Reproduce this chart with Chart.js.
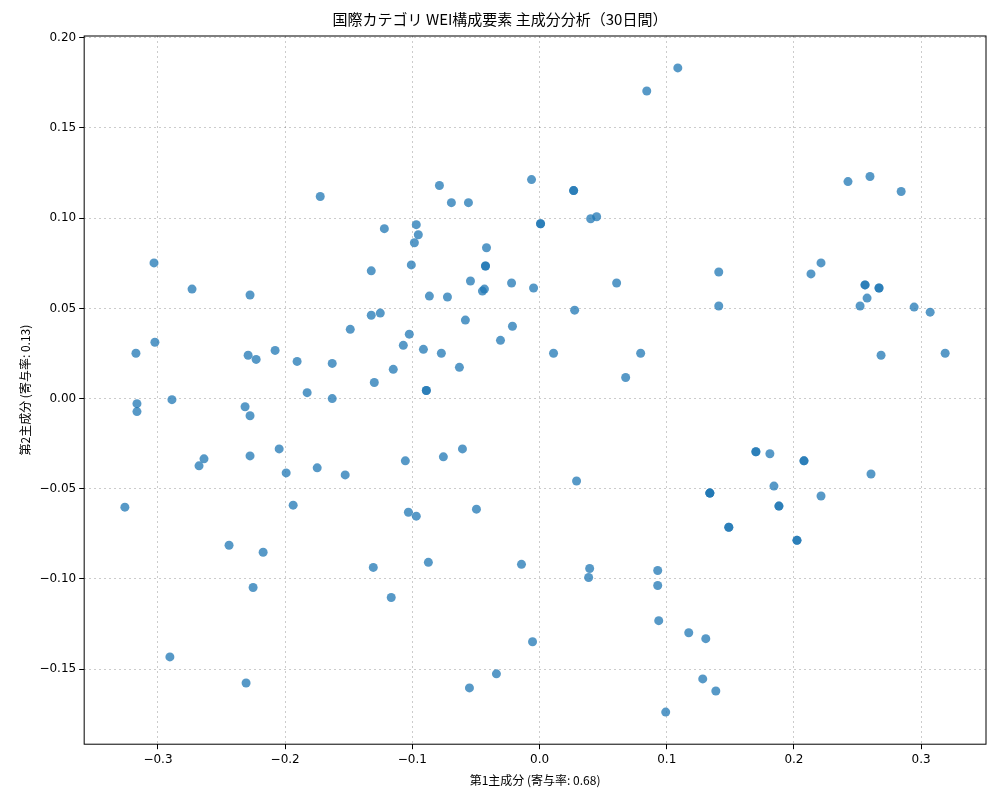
<!DOCTYPE html>
<html>
<head>
<meta charset="utf-8">
<style>
  html, body { margin: 0; padding: 0; background: #fff; }
  #wrap { width: 1000px; height: 800px; }
</style>
<script src="https://cdn.jsdelivr.net/npm/chart.js@4/dist/chart.umd.min.js"></script>
</head>
<body>
<div id="wrap"><canvas id="chartPca"></canvas></div>
<script>
// principal component scores
const pc1 = [
    0.1087, 0.0843, -0.0063, 0.0268, 0.0268, -0.0787, -0.0693, -0.0559, -0.1724, 0.0008,
    0.0402, 0.0449, -0.0969, -0.1220, -0.0953, -0.0984, -0.0417, -0.0425, -0.3031, -0.1323,
    -0.1008, -0.0543, -0.2732, -0.2276, -0.0866, -0.0724, -0.0433, -0.0449, -0.0220, -0.0047,
    0.0606, 0.1409, 0.1409, 0.0276, -0.1323, -0.1252, -0.1488, -0.0213, -0.1024, -0.0583,
    -0.0307, -0.1071, -0.0913, -0.0772, -0.2079, -0.2291, -0.2228, -0.3173, -0.3024, -0.1906,
    -0.1630, -0.1150, -0.0630, 0.0110, 0.0795, 0.0677, -0.1299, -0.1827, -0.0890, -0.1630,
    -0.2890, -0.3165, -0.3165, -0.2315, -0.2276, -0.2047, -0.0606, -0.0756, -0.2276, -0.2638,
    -0.2677, -0.1992, -0.1748, -0.1528, -0.1055, -0.1937, -0.3260, 0.0291, -0.1031, -0.0969,
    -0.0496, 0.1701, 0.1811, 0.2079, 0.2606, 0.1843, 0.1339, 0.2213, 0.1882, 0.1488,
    0.2024, -0.2441, -0.2173, -0.0874, -0.0142, -0.1307, 0.0394, 0.0386, 0.0929, 0.0929,
    -0.2252, -0.1166, 0.0937, 0.1173, 0.1307, -0.0055, -0.2906, -0.0339, -0.2307, -0.0551,
    0.1283, 0.1386, 0.0992, 0.2425, 0.2598, 0.2843, 0.2213, 0.2134, 0.2559, 0.2669,
    0.2575, 0.2520, 0.2945, 0.3071, 0.2685, 0.3189,
    // overlapping repeats (darker dots)
    -0.0425, -0.0890, 0.0008, 0.1339, 0.1339, 0.1488, 0.1701, 0.1882, 0.2079, 0.2024, 0.2559, 0.2669
];
const pc2 = [
    0.1833, 0.1705, 0.1214, 0.1153, 0.1153, 0.1181, 0.1086, 0.1086, 0.1120, 0.0969,
    0.0997, 0.1008, 0.0964, 0.0942, 0.0908, 0.0864, 0.0836, 0.0735, 0.0752, 0.0708,
    0.0741, 0.0652, 0.0607, 0.0574, 0.0568, 0.0563, 0.0607, 0.0596, 0.0641, 0.0613,
    0.0641, 0.0702, 0.0513, 0.0490, 0.0462, 0.0474, 0.0384, 0.0401, 0.0357, 0.0435,
    0.0323, 0.0295, 0.0273, 0.0251, 0.0267, 0.0240, 0.0217, 0.0251, 0.0312, 0.0206,
    0.0195, 0.0162, 0.0173, 0.0251, 0.0251, 0.0117, 0.0089, 0.0033, 0.0045, 0.0000,
    -0.0006, -0.0028, -0.0072, -0.0045, -0.0095, -0.0279, -0.0279, -0.0323, -0.0318, -0.0334,
    -0.0373, -0.0412, -0.0384, -0.0423, -0.0345, -0.0591, -0.0602, -0.0457, -0.0630, -0.0652,
    -0.0613, -0.0295, -0.0306, -0.0345, -0.0418, -0.0485, -0.0524, -0.0540, -0.0596, -0.0713,
    -0.0786, -0.0813, -0.0852, -0.0908, -0.0919, -0.0936, -0.0942, -0.0992, -0.0953, -0.1036,
    -0.1047, -0.1103, -0.1231, -0.1298, -0.1331, -0.1348, -0.1432, -0.1526, -0.1577, -0.1604,
    -0.1554, -0.1621, -0.1738, 0.1203, 0.1231, 0.1148, 0.0752, 0.0691, 0.0630, 0.0613,
    0.0557, 0.0513, 0.0507, 0.0479, 0.0240, 0.0251,
    0.0735, 0.0045, 0.0969, -0.0524, -0.0524, -0.0713, -0.0295, -0.0596, -0.0345, -0.0786, 0.0630, 0.0613
];
const xTicks = [-0.3, -0.2, -0.1, 0, 0.1, 0.2, 0.3];
const yTicks = [-0.15, -0.10, -0.05, 0, 0.05, 0.10, 0.15, 0.20];

const FONT = "'DejaVu Sans', sans-serif";
const JP = "'Noto Sans CJK JP', sans-serif";
const fmt = (v, d) => (v < 0 ? '\u2212' : '') + Math.abs(v).toFixed(d);

const points = pc1.map((x, i) => ({ x, y: pc2[i] }));

new Chart(document.getElementById('chartPca'), {
    type: 'scatter',
    data: {
        datasets: [{
            data: points,
            backgroundColor: 'rgba(31,119,180,0.75)',
            borderWidth: 0,
            pointRadius: 4.5,
        }],
    },
    options: {
        responsive: true,
        maintainAspectRatio: false,
        animation: false,
        layout: { padding: { left: 14, right: 14, top: 6, bottom: 8 } },
        plugins: {
            legend: { display: false },
            tooltip: { enabled: false },
            title: {
                display: true,
                text: '国際カテゴリ WEI構成要素 主成分分析（30日間）',
                color: '#000',
                font: { family: JP, size: 15, weight: 'normal' },
                padding: { top: 4, bottom: 8 },
            },
        },
        scales: {
            x: {
                type: 'linear',
                min: -0.358, max: 0.351,
                afterBuildTicks: ax => { ax.ticks = xTicks.map(v => ({ value: v })); },
                ticks: { color: '#000', font: { family: FONT, size: 12 }, callback: v => fmt(v, 1) },
                grid: { color: 'rgba(0,0,0,0.2)', tickColor: '#000', tickLength: 5 },
                border: { display: false, dash: [2, 3] },
                title: {
                    display: true, text: '第1主成分 (寄与率: 0.68)', color: '#000',
                    font: { family: JP, size: 12 },
                },
            },
            y: {
                type: 'linear',
                min: -0.1916, max: 0.201,
                afterBuildTicks: ax => { ax.ticks = yTicks.map(v => ({ value: v })); },
                ticks: { color: '#000', font: { family: FONT, size: 12 }, callback: v => fmt(v, 2) },
                grid: { color: 'rgba(0,0,0,0.2)', tickColor: '#000', tickLength: 5 },
                border: { display: false, dash: [2, 3] },
                title: {
                    display: true, text: '第2主成分 (寄与率: 0.13)', color: '#000',
                    font: { family: JP, size: 12 },
                },
            },
        },
    },
    plugins: [{
        id: 'frame',
        afterDraw(chart) {
            const { ctx, chartArea: a } = chart;
            ctx.save();
            ctx.strokeStyle = '#000';
            ctx.lineWidth = 1;
            ctx.strokeRect(a.left, a.top, a.right - a.left, a.bottom - a.top);
            ctx.restore();
        },
    }],
});
</script>
</body>
</html>
